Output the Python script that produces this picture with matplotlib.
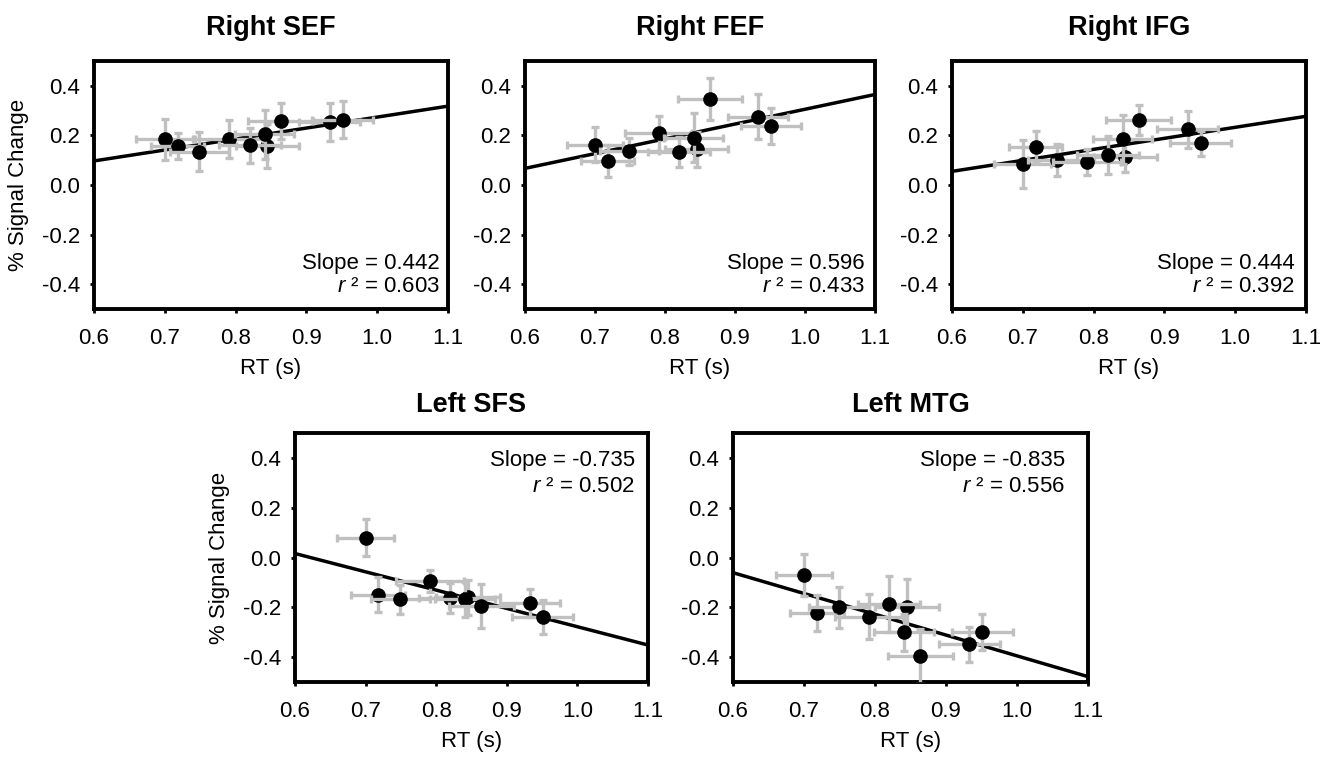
import numpy as np
import matplotlib
matplotlib.use("Agg")
import matplotlib.pyplot as plt

plt.rcParams['font.family'] = ['Liberation Sans', 'DejaVu Sans']
plt.rcParams['mathtext.fontset'] = 'custom'
plt.rcParams['mathtext.rm'] = 'Liberation Sans'
plt.rcParams['mathtext.it'] = 'Liberation Sans:italic'

# ---- data (subject order shared across regions) ----
rt = [0.845, 0.700, 0.718, 0.749, 0.791, 0.820, 0.841, 0.864, 0.933, 0.951]
rt_err = [0.045, 0.040, 0.038, 0.042, 0.048, 0.044, 0.042, 0.046, 0.043, 0.043]

titles = ["Right SEF", "Right FEF", "Right IFG", "Left SFS", "Left MTG"]

sef = [0.157, 0.184, 0.157, 0.135, 0.184, 0.160, 0.204, 0.257, 0.253, 0.264]
sef_err = [0.090, 0.083, 0.053, 0.077, 0.077, 0.070, 0.100, 0.073, 0.077, 0.073]

fef = [0.144, 0.163, 0.097, 0.136, 0.209, 0.133, 0.191, 0.347, 0.276, 0.237]
fef_err = [0.070, 0.071, 0.064, 0.055, 0.070, 0.060, 0.100, 0.083, 0.090, 0.073]

ifg = [0.113, 0.084, 0.155, 0.101, 0.093, 0.120, 0.184, 0.261, 0.224, 0.168]
ifg_err = [0.060, 0.097, 0.063, 0.063, 0.052, 0.077, 0.100, 0.060, 0.073, 0.050]

sfs = [-0.160, 0.080, -0.150, -0.168, -0.095, -0.163, -0.167, -0.195, -0.183, -0.239]
sfs_err = [0.070, 0.073, 0.070, 0.057, 0.043, 0.060, 0.070, 0.090, 0.057, 0.067]

mtg = [-0.200, -0.070, -0.223, -0.200, -0.237, -0.188, -0.300, -0.397, -0.348, -0.300]
mtg_err = [0.113, 0.083, 0.073, 0.083, 0.090, 0.113, 0.075, 0.110, 0.070, 0.073]

slopes = [0.442, 0.596, 0.444, -0.735, -0.835]
fit_at_06 = [0.097, 0.067, 0.055, 0.016, -0.061]
r2 = [0.603, 0.433, 0.392, 0.502, 0.556]

xticks = [0.6, 0.7, 0.8, 0.9, 1.0, 1.1]
xtick_labels = ['0.6', '0.7', '0.8', '0.9', '1.0', '1.1']
yticks = [-0.4, -0.2, 0.0, 0.2, 0.4]
ytick_labels = ['-0.4', '-0.2', '0.0', '0.2', '0.4']

series = [(sef, sef_err), (fef, fef_err), (ifg, ifg_err), (sfs, sfs_err), (mtg, mtg_err)]

# ---- layout (pixels) ----
W, H = 1333, 762
boxes = [(94, 448, 61, 309), (525, 875, 61, 309), (952, 1306, 61, 309),
         (295, 648, 433, 682), (733, 1088, 433, 682)]
text_right = [0.977, 0.971, 0.969, 0.963, 0.935]
text_top = [False, False, False, True, True]

fig = plt.figure(figsize=(W / 100, H / 100), dpi=100)
FS = 16
gray = '#c0c0c0'

for i, (l, r, t, b) in enumerate(boxes):
    ax = fig.add_axes([l / W, 1 - b / H, (r - l) / W, (b - t) / H])
    y, yerr = series[i]
    for j in range(len(rt)):
        ax.errorbar(rt[j], y[j], xerr=rt_err[j], yerr=yerr[j], fmt='o',
                    color='black', ms=9.5, ecolor=gray, elinewidth=2.4,
                    capsize=3, capthick=2.4, zorder=3 + j, clip_on=True)
    xs = np.array([0.6, 1.1])
    ax.plot(xs, fit_at_06[i] + slopes[i] * (xs - 0.6), color='black', lw=2.5, zorder=2.5)
    ax.set_xlim(0.6, 1.1)
    ax.set_ylim(-0.5, 0.5)
    ax.set_xticks(xticks)
    ax.set_xticklabels(xtick_labels)
    ax.set_yticks(yticks)
    ax.set_yticklabels(ytick_labels)
    ax.tick_params(axis='both', direction='out', length=3, width=2, labelsize=FS)
    ax.tick_params(axis='x', pad=11)
    ax.tick_params(axis='y', pad=7)
    for s in ax.spines.values():
        s.set_linewidth(2.8)
    ax.set_title(titles[i], fontsize=19.5, fontweight='bold', pad=(19 if i < 3 else 15))
    ax.set_xlabel('RT (s)', fontsize=FS, labelpad=6)
    if i in (0, 3):
        ax.set_ylabel('% Signal Change', fontsize=FS, labelpad=9)
    if text_top[i]:
        y1, y2 = 0.888, 0.787
    else:
        y1, y2 = 0.185, 0.089
    ax.text(text_right[i], y1, 'Slope = %.3f' % slopes[i], transform=ax.transAxes,
            ha='right', va='center', fontsize=FS, zorder=20)
    ax.text(text_right[i], y2, '$r$ ² = %.3f' % r2[i], transform=ax.transAxes,
            ha='right', va='center', fontsize=FS, zorder=20)

fig.savefig('out.png', dpi=100, facecolor='white')
